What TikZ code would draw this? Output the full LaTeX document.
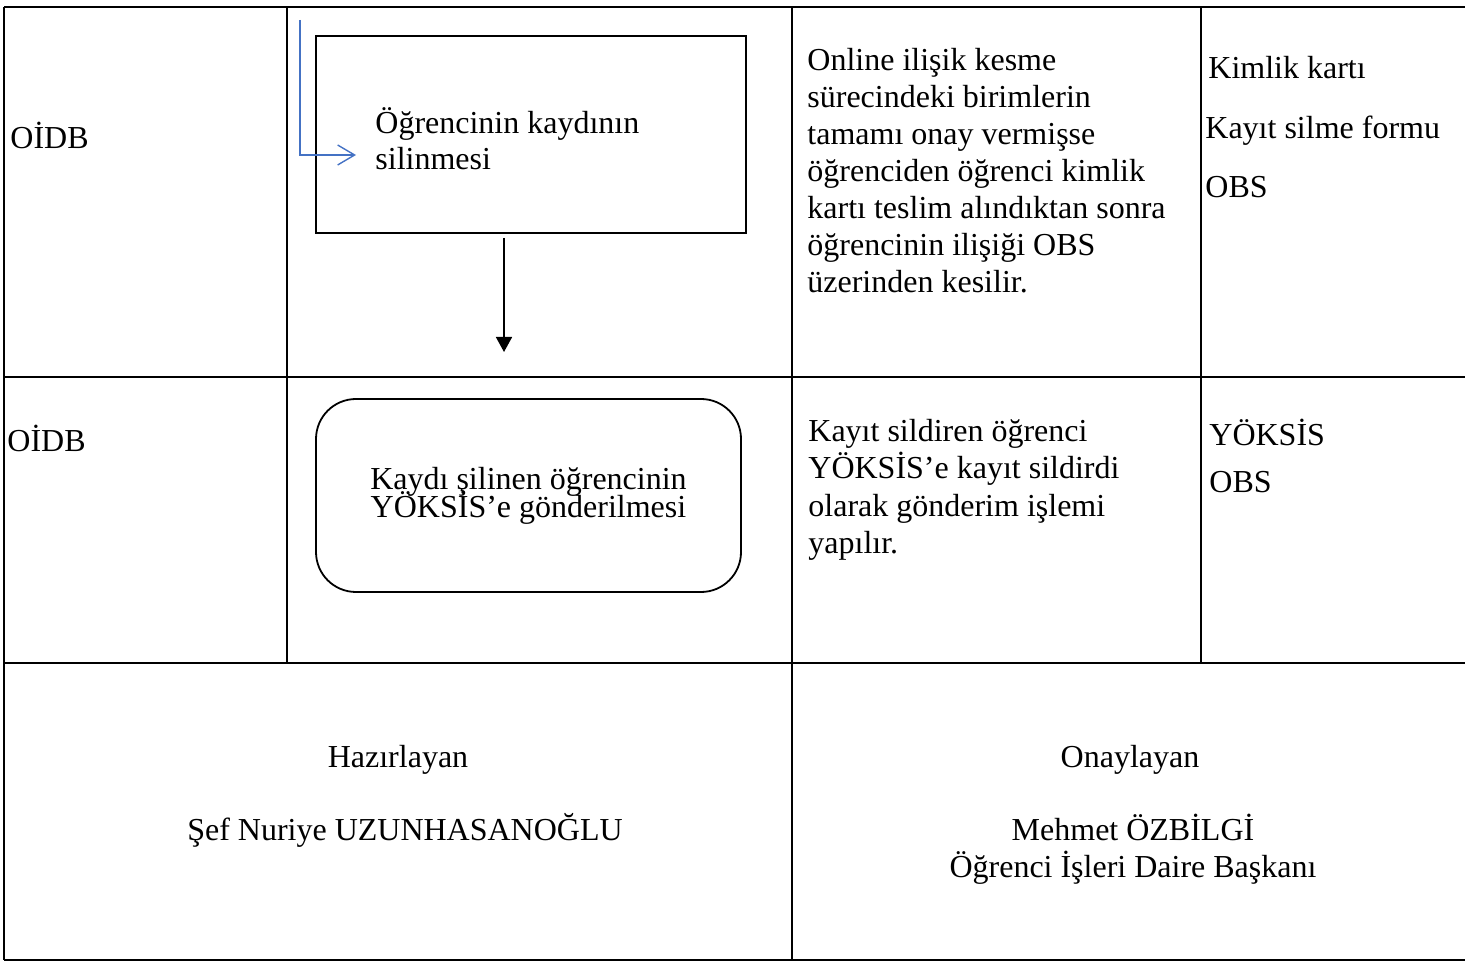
\documentclass[tikz,border=0pt]{standalone}
\usepackage{fontspec}
\setmainfont{Liberation Serif}
\usetikzlibrary{arrows.meta}

\tikzset{
  gridline/.style={line width=1.3pt},
  celltext/.style={anchor=base west, inner sep=0pt, align=left,
    font=\fontsize{16}{18.5}\selectfont},
  signtext/.style={anchor=base, inner sep=0pt, align=center,
    font=\fontsize{16}{18.5}\selectfont},
  stepbox/.style={draw, line width=0.9pt, inner sep=0pt,
    minimum width=215pt, minimum height=98.5pt},
  endbox/.style={draw, line width=0.9pt, rounded corners=20pt, inner sep=0pt,
    minimum width=212.5pt, minimum height=96.5pt, align=center,
    font=\fontsize{16}{18.5}\selectfont},
  flowarrow/.style={line width=0.8pt, -{Triangle[length=7.5pt,width=8pt]}},
  feedarrow/.style={line width=0.7pt, draw={rgb,255:red,68;green,114;blue,196},
    -{Straight Barb[length=8.5pt,width=10pt]}},
}

\begin{document}
\begin{tikzpicture}[x=0.5pt,y=-0.5pt]
        \useasboundingbox (0,0) rectangle (1465,961);

        % Draw the table lines
        \draw[gridline] (4,7) -- (1465,7);
        \draw[gridline] (4,377) -- (1465,377);
        \draw[gridline] (4,663) -- (1465,663);
        \draw[gridline] (4,960) -- (1465,960);
        \draw[gridline] (4,7) -- (4,960);
        \draw[gridline] (287,7) -- (287,663);
        \draw[gridline] (792,7) -- (792,960);
        \draw[gridline] (1201,7) -- (1201,663);

        % First row: deletion of the record
        \node[celltext] (unit1) at (10,149) {OİDB};
        \node[stepbox] (box1) at (531,134.5) {};
        \node[celltext] (box1text) at (375,170) {Öğrencinin kaydının\\[-0.5pt]silinmesi};
        \node[celltext] (desc1) at (807,293) {Online ilişik kesme\\sürecindeki birimlerin\\tamamı onay vermişse\\öğrenciden öğrenci kimlik\\kartı teslim alındıktan sonra\\öğrencinin ilişiği OBS\\üzerinden kesilir.};
        \node[celltext] (doc1a) at (1208,79) {Kimlik kartı};
        \node[celltext] (doc1b) at (1205,139) {Kayıt silme formu};
        \node[celltext] (doc1c) at (1205,198) {OBS};

        \coordinate (feedtop) at (300,20);
        \coordinate (feedend) at (356,155);
        \draw[feedarrow] (feedtop) |- (feedend);

        \coordinate (downend) at (504,352);
        \draw[flowarrow] ([yshift=-2pt]box1.south -| downend) -- (downend);

        % Second row: sending to YOKSIS
        \node[celltext] (unit2) at (7,452) {OİDB};
        \node[endbox] (box2) at (528.5,495.5) {Kaydı şilinen öğrencinin\\[-4.5pt]YÖKSİS’e gönderilmesi};
        \node[celltext] (desc2) at (808,553) {Kayıt sildiren öğrenci\\YÖKSİS’e kayıt sildirdi\\olarak gönderim işlemi\\yapılır.};
        \node[celltext] (doc2a) at (1209,446) {YÖKSİS};
        \node[celltext] (doc2b) at (1209,493) {OBS};

        % Signatures
        \node[signtext] (prep) at (398,767) {Hazırlayan};
        \node[signtext] (prepname) at (405,840) {Şef Nuriye UZUNHASANOĞLU};
        \node[signtext] (appr) at (1130,767) {Onaylayan};
        \node[signtext] (apprname) at (1133,877) {Mehmet ÖZBİLGİ\\Öğrenci İşleri Daire Başkanı};

\end{tikzpicture}
\end{document}
